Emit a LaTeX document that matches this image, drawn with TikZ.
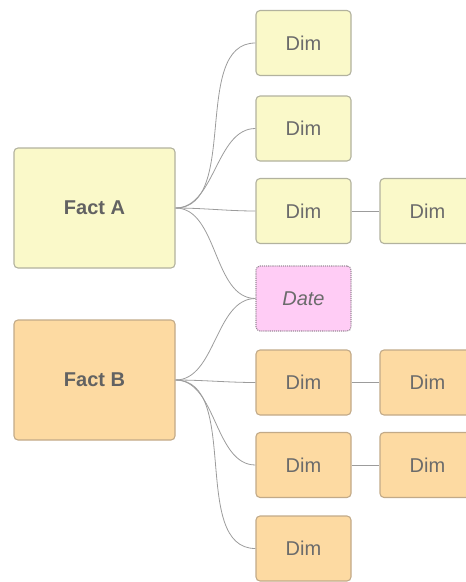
\documentclass[tikz,border=0pt]{standalone}
\usepackage{fontspec}
\setmainfont{Liberation Sans}
\begin{document}
\begin{tikzpicture}[x=1pt,y=-1pt,
  box/.style={draw, line width=1.1pt, rounded corners=4pt, minimum width=95pt, minimum height=65pt, inner sep=0pt, text=txtgray, font=\fontsize{20}{24}\selectfont},
  yel/.style={box, fill=yfill, draw=yborder},
  org/.style={box, fill=ofill, draw=oborder},
  fact/.style={minimum width=161pt, minimum height=120pt, font=\fontsize{20}{24}\selectfont\bfseries, text=facttxt},
  datebox/.style={box, fill=pfill, draw=pborder, densely dotted, font=\fontsize{20}{24}\selectfont\itshape},
  conn/.style={draw=lgray, line width=0.8pt},
  curv/.style={conn, out=0, in=180, looseness=0.9}
]
\definecolor{yfill}{HTML}{FAF9C9}
\definecolor{yborder}{HTML}{B2B29E}
\definecolor{ofill}{HTML}{FDDAA2}
\definecolor{oborder}{HTML}{C2AA88}
\definecolor{pfill}{HTML}{FFCCF5}
\definecolor{pborder}{HTML}{9A8A98}
\definecolor{txtgray}{HTML}{6B6B6B}
\definecolor{facttxt}{HTML}{626262}
\definecolor{lgray}{HTML}{9C9C9C}
\useasboundingbox (0,0) rectangle (466,582);
\begin{scope}
\clip (0,0) rectangle (466,582);
\node[yel, fact] (fa) at (94.5,208) {Fact A};
\node[org, fact] (fb) at (94.5,380) {Fact B};
\node[yel] (d1) at (303.5,43) {Dim};
\node[yel] (d2) at (303.5,128.5) {Dim};
\node[yel] (d3) at (303.5,211) {Dim};
\node[yel] (d3r) at (427.5,211) {Dim};
\node[datebox] (dt) at (303.5,298.5) {Date};
\node[org] (d4) at (303.5,382.5) {Dim};
\node[org] (d4r) at (427.5,382.5) {Dim};
\node[org] (d5) at (303.5,465) {Dim};
\node[org] (d5r) at (427.5,465) {Dim};
\node[org] (d6) at (303.5,548.5) {Dim};
\draw[curv] (fa.east) to (d1.west);
\draw[curv] (fa.east) to (d2.west);
\draw[curv] (fa.east) to (d3.west);
\draw[curv] (fa.east) to (dt.west);
\draw[curv] (fb.east) to (dt.west);
\draw[curv] (fb.east) to (d4.west);
\draw[curv] (fb.east) to (d5.west);
\draw[curv] (fb.east) to (d6.west);
\draw[conn] (d3.east) -- (d3r.west);
\draw[conn] (d4.east) -- (d4r.west);
\draw[conn] (d5.east) -- (d5r.west);
\end{scope}
\end{tikzpicture}
\end{document}
